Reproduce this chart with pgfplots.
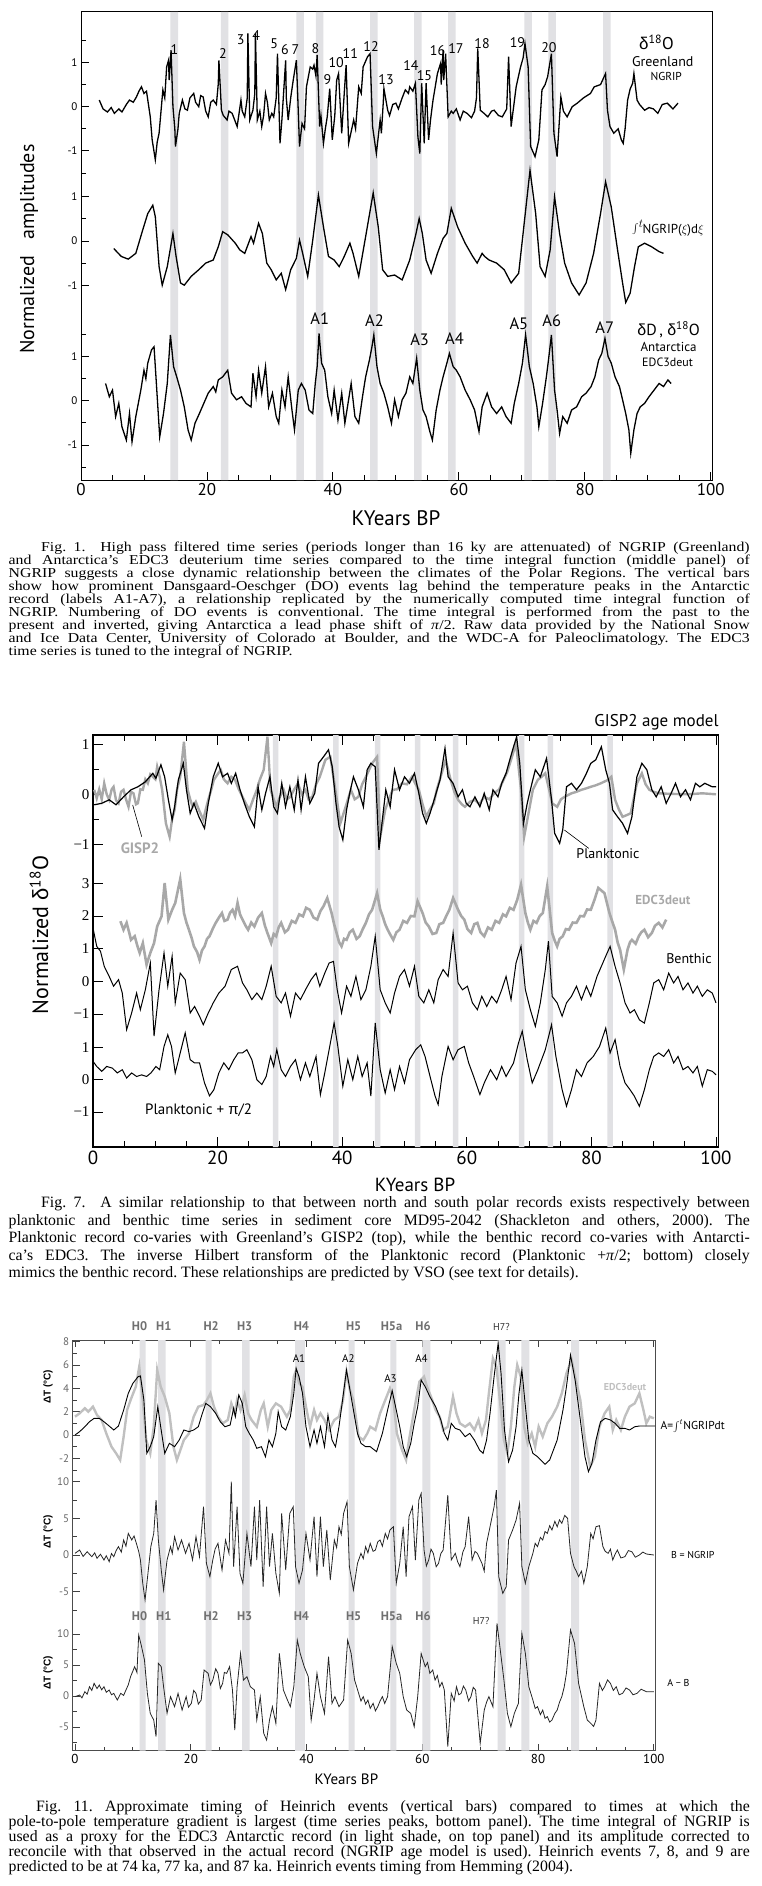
\documentclass[border=0pt]{standalone}
\usepackage{fontspec}
\setmainfont{Liberation Serif}
\setsansfont{PT Sans}
\newfontfamily\grk{Liberation Sans}
\usepackage{pgfplots}
\pgfplotsset{compat=1.18}
\definecolor{barcol}{RGB}{225,225,228}
\definecolor{gcurve}{RGB}{168,168,168}
\definecolor{lgcurve}{RGB}{192,192,192}
\definecolor{hlab}{RGB}{112,112,112}
\newcommand\fs[1]{\fontsize{#1}{#1}\selectfont}
\frenchspacing
% caption lines: x, baseline y, width, text
\newcommand\capl[4]{\node[anchor=base west,inner sep=0pt,font=\fs{15.8}] at (#1pt,-#2pt) {\makebox[#3pt][s]{#4}};}
\newcommand\cape[3]{\node[anchor=base west,inner sep=0pt,font=\fs{15.8}] at (#1pt,-#2pt) {#3};}
% Fig. 1 caption is set a little flatter
\newcommand\caplf[4]{\node[anchor=base west,inner sep=0pt,font=\fs{15.8}] at (#1pt,-#2pt) {\scalebox{1}[0.86]{\makebox[#3pt][s]{#4}}};}
\newcommand\capef[3]{\node[anchor=base west,inner sep=0pt,font=\fs{15.8}] at (#1pt,-#2pt) {\scalebox{1}[0.86]{#3}};}
\pgfplotsset{
  fa/.style={y filter/.expression={373.3+44.2*y}},
  fb/.style={y filter/.expression={239+44.2*y}},
  fc/.style={y filter/.expression={79.3+44.2*y}},
  sa/.style={y filter/.expression={352.7+50*y}},
  sb/.style={y filter/.expression={165.7+32.65*y}},
  sc/.style={y filter/.expression={67.3+32.3*y}},
  ha/.style={y filter/.expression={315.7+11.67*y}},
  hb/.style={y filter/.expression={195.7+7.33*y}},
  hc/.style={y filter/.expression={54.7+6.2*y}},
  bars/.style={ybar, bar shift=0pt, fill=barcol, draw=none},
}
\begin{document}
\begin{tikzpicture}
\path[use as bounding box] (0pt,0pt) rectangle (762pt,-1886pt);

% ---------------- Fig. 1 ----------------
\begin{axis}[
  at={(81pt,-480pt)}, anchor=south west, scale only axis,
  width=631pt, height=468pt,
  xmin=0, xmax=100.2, ymin=0, ymax=468,
  axis line style={line width=1pt},
  tick pos=left, tick align=inside,
  major tick length=8pt, minor tick length=5pt,
  every tick/.style={black, line width=0.8pt},
  xtick={0,20,40,60,80,100},
  minor xtick={5,10,15,25,30,35,45,50,55,65,70,75,85,90,95},
  ytick={35.1,79.3,123.5,194.8,239,283.2,329.1,373.3,417.5},
  yticklabels={-1,0,1,-1,0,1,-1,0,1},
  minor ytick={13,57.2,101.4,145.6,216.9,261.1,307,351.2,395.4,439.6},
  xticklabel style={font=\sffamily\fs{17}},
  yticklabel style={font=\sffamily\fs{11}},
  /pgf/number format/assume math mode=true,
]
\addplot[bars, bar width=7.6pt] coordinates {(14.8,468) (22.8,468) (34.8,468) (37.9,468) (46.5,468) (53.5,468) (58.9,468) (71.0,468) (74.8,468) (83.5,468)};
% NGRIP
\addplot[fa, black, line width=1.3pt, no markers] coordinates {
(2.9,0.15)(3.5,-0.05)(4.2,-0.12)(4.8,-0.02)(5.3,-0.15)(6.0,-0.05)(6.5,-0.12)(7.2,0.05)(7.7,0.15)(8.3,0.10)(8.8,0.22)(9.2,0.35)(9.6,0.45)(10.0,0.30)(10.4,0.35)(11.0,-0.23)(11.3,-0.75)(11.8,-1.2)(12.1,-0.8)(12.4,-0.6)(13.0,0.38)(13.3,0.2)(13.6,0.9)(13.9,1.05)(14.0,0.6)(14.3,1.28)(14.6,0)(14.9,-0.5)(15.0,-0.9)(15.4,-0.5)(15.6,-0.15)(16.1,0.15)(16.5,-0.05)(16.9,-0.08)(17.3,0.2)(17.9,0.3)(18.2,0.1)(18.7,0)(19.0,0.25)(19.4,0.22)(19.8,-0.1)(20.2,-0.23)(20.6,0.1)(21.0,0.15)(21.5,0.05)(21.8,0.52)(21.9,1.05)(22.3,-0.08)(22.6,-0.2)(23.2,-0.3)(23.5,-0.1)(24.0,-0.15)(24.4,-0.3)(24.8,-0.45)(25.4,0.15)(25.6,-0.1)(26.0,-0.23)(26.4,0.2)(26.5,1.66)(26.8,-0.3)(27.3,-0.08)(27.6,0.3)(27.7,1.66)(28.0,-0.3)(28.4,-0.1)(28.7,-0.45)(29.0,-0.2)(29.3,0.3)(29.6,0.1)(29.9,-0.3)(30.3,-0.15)(30.6,-0.23)(31.0,0.2)(31.2,1.2)(31.6,-0.83)(31.9,-0.3)(32.1,0.15)(32.5,1.05)(32.6,0.2)(32.9,-0.3)(33.3,0.2)(33.7,0.6)(34.2,1.05)(34.4,0.3)(34.7,-0.9)(35.1,-0.38)(35.5,-0.5)(35.8,0.45)(36.4,0.9)(36.8,0.85)(37.0,0.94)(37.3,0.7)(37.5,1.17)(37.9,-0.45)(38.1,-0.2)(38.5,-0.83)(38.8,-0.5)(39.1,-0.23)(39.5,0.41)(39.9,-0.75)(40.3,-0.2)(40.6,0.6)(40.9,0.75)(41.4,-0.6)(41.8,0.3)(42.1,0.94)(42.5,-0.83)(43.3,-0.3)(43.6,-0.5)(44.1,0.45)(44.5,0.3)(44.8,0.9)(45.5,1.13)(45.9,1.2)(46.3,-0.45)(46.9,-1.06)(47.5,-0.3)(47.7,-0.6)(48.0,0.1)(48.1,0.41)(48.7,-0.08)(49.0,-0.2)(49.5,0.05)(50.0,0.08)(50.4,-0.05)(51.0,0.2)(51.5,0.38)(52.0,0.3)(52.2,0.45)(52.7,0.35)(53.1,0.53)(53.5,-0.68)(53.8,-1.06)(54.1,0.53)(54.5,-0.83)(54.8,0.53)(55.2,-0.75)(55.5,-0.3)(55.9,0.15)(56.6,0.75)(57.1,0.98)(57.2,0.5)(57.5,1.28)(57.6,0.6)(57.9,1.2)(58.3,-0.23)(58.8,-0.1)(59.1,-0.15)(59.6,-0.05)(60.2,-0.3)(60.7,-0.1)(61.3,-0.15)(62.0,-0.25)(62.5,-0.1)(62.8,0.2)(63.0,1.32)(63.4,-0.08)(64.0,-0.15)(64.6,-0.23)(65.2,-0.1)(65.6,-0.08)(66.3,-0.2)(66.9,-0.23)(67.6,-0.05)(67.9,1.13)(68.3,-0.45)(69.1,0.45)(69.8,0.9)(70.2,1.1)(70.5,1.43)(71.0,0.9)(71.4,-0.9)(72.1,-1.13)(72.7,-0.75)(73.2,0.38)(73.7,0.5)(74.1,0.68)(74.7,1.2)(75.1,-0.6)(75.6,-1.13)(76.2,0.22)(76.6,-0.1)(77.2,-0.23)(78.0,0.0)(78.8,0.08)(79.8,0.2)(80.9,0.3)(81.5,0.45)(82.5,0.5)(83.3,0.75)(83.6,-0.08)(84.0,-0.45)(84.6,-0.6)(85.3,-0.5)(85.8,-0.75)(86.1,-0.83)(86.4,-0.5)(86.8,0.15)(87.2,0.4)(87.6,0.53)(87.8,0.75)(88.3,0.15)(88.7,0.05)(89.5,-0.08)(90.2,-0.02)(90.9,-0.05)(91.6,-0.15)(92.3,0.05)(93.1,0.08)(94.0,-0.05)(94.8,0.08)};
% time integral of NGRIP
\addplot[fb, black, line width=1.3pt, no markers] coordinates {
(5.2,-0.17)(6.4,-0.35)(7.5,-0.41)(8.7,-0.28)(9.8,0.25)(10.6,0.62)(11.4,0.81)(11.8,0.55)(12.4,-0.58)(12.9,-1.0)(13.7,-0.58)(14.6,0.17)(15.1,-0.35)(15.8,-0.95)(16.4,-1.0)(17.5,-0.8)(18.7,-0.65)(19.8,-0.5)(21.0,-0.43)(21.8,-0.13)(22.5,0.21)(23.3,0.14)(24.5,-0.05)(25.2,-0.2)(26.0,-0.28)(27.0,0.1)(27.4,-0.05)(28.2,0.4)(28.8,0.17)(29.5,-0.5)(30.2,-0.65)(31.0,-0.88)(31.8,-0.73)(32.5,-1.1)(33.3,-0.65)(34.2,-0.39)(34.7,0.02)(35.2,-0.28)(36.0,-0.8)(36.8,0.02)(37.7,1.04)(38.5,0.32)(39.3,-0.35)(40.2,-0.43)(41.0,-0.58)(41.8,-0.35)(42.7,-0.05)(43.2,-0.28)(44.1,-0.8)(45.2,0.1)(46.4,1.09)(47.2,0.32)(47.9,-0.65)(48.7,-0.8)(49.8,-0.77)(51.0,-0.88)(52.2,-0.43)(53.2,0.17)(53.7,0.51)(54.2,0.17)(54.8,-0.43)(55.6,-0.73)(56.6,-0.28)(57.5,0.06)(58.1,0.17)(58.8,0.74)(59.8,0.32)(61.0,-0.05)(62.2,-0.35)(62.9,-0.5)(63.7,-0.28)(64.1,-0.35)(64.8,-0.43)(66.0,-0.5)(67.2,-0.65)(68.3,-0.95)(69.5,-0.73)(70.2,0.17)(71.3,1.6)(72.2,0.62)(72.9,-0.58)(73.7,-0.8)(74.5,-0.2)(75.2,1.0)(76.0,0.17)(76.8,-0.5)(77.9,-0.95)(79.1,-1.22)(80.2,-0.95)(81.4,-0.28)(82.5,0.62)(83.3,1.34)(84.2,0.77)(85.2,-0.2)(86.0,-0.95)(86.5,-1.39)(87.2,-1.18)(87.9,-0.58)(88.5,-0.13)(89.5,-0.05)(90.6,-0.13)(91.8,-0.24)(92.5,-0.28)};
% EDC3 deuterium
\addplot[fc, black, line width=1.3pt, no markers] coordinates {
(3.9,0.39)(4.5,0.09)(5.0,0.24)(5.5,-0.36)(6.0,-0.06)(6.5,-0.59)(7.2,-0.89)(7.7,-0.29)(8.1,-0.93)(8.7,-0.36)(9.5,0.24)(10.0,0.69)(10.3,0.5)(10.6,0.85)(11.2,1.15)(11.6,1.22)(12.0,0.32)(12.5,-0.82)(13.1,-0.29)(13.7,0.39)(14.2,1.49)(14.7,0.77)(15.2,0.54)(15.8,0.24)(16.4,-0.14)(17.0,-0.66)(17.5,-0.89)(18.1,-0.51)(18.8,-0.29)(19.5,-0.06)(20.2,0.17)(21.0,0.32)(21.4,0.2)(21.8,0.47)(22.5,0.54)(23.3,0.69)(23.9,0.17)(24.7,0.02)(25.5,0.09)(26.2,-0.06)(27.0,-0.14)(27.3,0.62)(27.8,0.09)(28.2,0.69)(28.7,0.17)(29.3,0.77)(29.8,-0.14)(30.4,0.17)(31.0,-0.36)(31.4,-0.51)(31.9,0.24)(32.4,-0.14)(32.9,0.54)(33.5,-0.21)(33.9,-0.66)(34.5,0.24)(35.0,0.39)(35.6,0.24)(36.2,-0.21)(36.8,-0.29)(37.2,0.39)(37.5,0.77)(37.8,1.52)(38.2,0.85)(38.7,0.69)(39.2,0.09)(39.8,-0.29)(40.2,0.24)(40.8,-0.44)(41.4,0.17)(41.9,-0.51)(42.4,-0.06)(42.9,0.39)(43.5,-0.36)(44.1,-0.51)(44.7,0.09)(45.2,0.54)(45.8,0.92)(46.2,1.22)(46.5,1.49)(47.0,0.77)(47.5,0.39)(48.1,0.17)(48.7,-0.14)(49.3,-0.51)(49.8,0.02)(50.4,-0.36)(51.0,0.02)(51.6,0.17)(52.2,0.54)(52.7,0.39)(53.3,0.96)(53.8,0.24)(54.3,-0.21)(54.8,-0.36)(55.4,-0.7)(55.8,-0.89)(56.4,-0.21)(57.0,0.24)(57.5,0.54)(58.1,0.85)(58.5,1.07)(59.1,0.77)(59.6,0.69)(60.2,0.54)(61.0,0.24)(61.8,0.02)(62.5,-0.21)(63.2,-0.7)(63.7,-0.14)(64.5,0.17)(65.2,-0.14)(66.0,-0.29)(66.8,-0.14)(67.5,-0.36)(68.3,-0.51)(68.8,-0.06)(69.5,0.39)(70.1,0.85)(70.6,1.49)(71.2,0.77)(71.8,0.39)(72.4,-0.14)(72.7,-0.59)(73.3,-0.06)(73.9,0.54)(74.3,1.0)(74.7,1.49)(75.2,0.24)(75.6,-0.21)(76.0,-0.74)(76.5,-0.36)(77.2,-0.51)(77.9,-0.21)(78.7,-0.14)(79.5,0.09)(80.2,0.17)(81.0,0.32)(81.6,0.54)(82.2,0.92)(82.7,1.07)(83.2,1.41)(83.7,1.0)(84.2,0.85)(84.8,0.54)(85.5,0.32)(86.0,0.02)(86.5,-0.29)(87.0,-0.66)(87.3,-1.19)(87.8,-0.66)(88.3,-0.29)(88.8,-0.14)(89.5,-0.06)(90.2,0.09)(91.0,0.24)(91.8,0.39)(92.5,0.32)(93.2,0.47)(93.7,0.39)};
\end{axis}

\node[rotate=90,font=\sffamily\fs{20}] at (29pt,-249pt) {Normalized\hspace{16pt}amplitudes};
\node[font=\sffamily\fs{21}] at (396pt,-518pt) {KYears BP};
\begin{scope}[every node/.style={font=\sffamily\fs{14}, inner sep=0pt}]
\node at (174.4pt,-49.3pt) {1};
\node at (222.9pt,-54pt) {2};
\node at (240.8pt,-40pt) {3};
\node at (256.3pt,-36pt) {4};
\node at (274.2pt,-43.3pt) {5};
\node at (284.9pt,-50pt) {6};
\node at (295.5pt,-50pt) {7};
\node at (315.4pt,-48.3pt) {8};
\node at (327.5pt,-80pt) {9};
\node at (336.2pt,-62.3pt) {10};
\node at (350.3pt,-54pt) {11};
\node at (371.1pt,-46.7pt) {12};
\node at (386.1pt,-79.3pt) {13};
\node at (410.9pt,-65.7pt) {14};
\node at (424.4pt,-76pt) {15};
\node at (437.5pt,-51pt) {16};
\node at (455.9pt,-48.3pt) {17};
\node at (482.1pt,-43.3pt) {18};
\node at (517.4pt,-42.7pt) {19};
\node at (548.9pt,-47.3pt) {20};
\end{scope}
\node[font=\sffamily\fs{17}] at (656.5pt,-42.7pt) {{\grk δ}\textsuperscript{18}O};
\node[font=\sffamily\fs{14}] at (662.8pt,-61.7pt) {Greenland};
\node[font=\sffamily\fs{11.5}] at (666.2pt,-76.7pt) {NGRIP};
\node[font=\sffamily\fs{13}] at (668pt,-228.3pt) {{\fs{17}$\int^{t}$}\hspace{-1pt}NGRIP($\xi$)d$\xi$};
\begin{scope}[every node/.style={font=\sffamily\fs{16.5}, inner sep=0pt}]
\node at (319.8pt,-319pt) {A1};
\node at (374.5pt,-320.7pt) {A2};
\node at (419.6pt,-339.3pt) {A3};
\node at (454.5pt,-338.3pt) {A4};
\node at (518.9pt,-324pt) {A5};
\node at (551.8pt,-320.7pt) {A6};
\node at (604.7pt,-327.3pt) {A7};
\end{scope}
\node[font=\sffamily\fs{16}] at (668.6pt,-330pt) {{\grk δ}D\,, {\grk δ}\textsuperscript{18}O};
\node[font=\sffamily\fs{13}] at (668.6pt,-347.3pt) {Antarctica};
\node[font=\sffamily\fs{12}] at (667.6pt,-362.7pt) {EDC3deut};

\caplf{41}{551.4}{708.5}{Fig. 1.\ \ High pass filtered time series (periods longer than 16 ky are attenuated) of NGRIP (Greenland)}
\caplf{8.5}{564.5}{741}{and Antarctica’s EDC3 deuterium time series compared to the time integral function (middle panel) of}
\caplf{8.5}{577.5}{741}{NGRIP suggests a close dynamic relationship between the climates of the Polar Regions. The vertical bars}
\caplf{8.5}{590.6}{741}{show how prominent Dansgaard-Oeschger (DO) events lag behind the temperature peaks in the Antarctic}
\caplf{8.5}{603.6}{741}{record (labels A1-A7), a relationship replicated by the numerically computed time integral function of}
\caplf{8.5}{616.7}{741}{NGRIP. Numbering of DO events is conventional. The time integral is performed from the past to the}
\caplf{8.5}{629.7}{741}{present and inverted, giving Antarctica a lead phase shift of \textit{π}/2. Raw data provided by the National Snow}
\caplf{8.5}{642.8}{741}{and Ice Data Center, University of Colorado at Boulder, and the WDC-A for Paleoclimatology. The EDC3}
\capef{8.5}{655.8}{time series is tuned to the integral of NGRIP.}

% ---------------- Fig. 7 ----------------
\begin{axis}[
  at={(93pt,-1147pt)}, anchor=south west, scale only axis,
  width=625.5pt, height=412pt,
  xmin=0, xmax=100.4, ymin=0, ymax=412,
  axis line style={line width=1.3pt},
  xtick pos=both, ytick pos=left, tick align=inside,
  major tick length=10pt, minor tick length=6pt,
  every tick/.style={black, line width=0.9pt},
  xtick={0,20,40,60,80,100},
  minor xtick={5,10,15,25,30,35,45,50,55,65,70,75,85,90,95},
  ytick={35.0,67.3,99.6,133.05,165.7,198.35,231.0,263.65,302.7,352.7,402.7},
  yticklabels={−1,0,1,−1,0,1,2,3,−1,0,1},
  minor ytick={327.7,377.7},
  xticklabel style={font=\sffamily\fs{19}},
  yticklabel style={font=\rmfamily\fs{15}},
  /pgf/number format/assume math mode=true,
]
\addplot[bars, bar width=5.5pt] coordinates {(29.3,412) (39.0,412) (45.7,412) (52.1,412) (58.2,412) (68.8,412) (73.4,412) (83.0,412)};
% GISP2
\addplot[sa, gcurve, line width=2.4pt, no markers] coordinates {
(0.2,0.09)(0.6,-0.08)(1.0,0.1)(1.4,-0.1)(1.8,0.22)(2.2,0.0)(2.6,-0.11)(3.0,0.1)(3.3,0.15)(3.7,-0.12)(4.1,-0.18)(4.5,0.05)(4.9,0.09)(5.3,-0.1)(5.7,-0.25)(6.1,0.05)(6.5,0.02)(6.9,-0.2)(7.2,-0.18)(7.6,0.1)(8.0,0.09)(8.4,0.3)(8.8,0.22)(9.2,0.4)(9.6,0.35)(10.0,0.3)(10.3,0.55)(10.7,0.35)(11.1,0.09)(11.7,-0.58)(12.3,-0.85)(12.7,-0.5)(13.1,-0.31)(13.5,0.1)(14.0,0.35)(14.6,1.05)(15.2,0.09)(15.6,-0.1)(16.0,-0.25)(16.5,-0.15)(17.0,-0.31)(17.7,-0.51)(18.1,-0.3)(18.5,-0.11)(19.0,0.1)(19.4,0.29)(20.0,0.4)(20.5,0.49)(21.0,0.3)(21.6,0.22)(22.2,0.35)(22.8,0.29)(23.4,0.1)(24.0,-0.05)(24.6,-0.2)(25.1,-0.31)(25.7,-0.1)(26.3,0.09)(26.8,0.3)(27.4,0.49)(28.0,1.15)(28.5,0.09)(29.0,-0.1)(29.4,-0.25)(30.0,-0.05)(30.6,0.09)(31.1,-0.1)(31.7,-0.05)(32.3,0.1)(32.9,0.22)(33.5,0.0)(34.1,0.09)(34.6,-0.1)(35.2,-0.05)(35.8,0.2)(36.4,0.35)(37.3,0.69)(38.1,0.75)(38.9,0.09)(39.7,-0.58)(40.4,-0.31)(41.4,0.09)(42.0,-0.1)(42.6,-0.05)(43.2,0.2)(43.8,0.35)(44.8,0.62)(45.6,0.75)(46.1,-0.85)(46.9,-0.31)(47.5,-0.1)(48.1,0.09)(48.8,0.1)(49.6,0.22)(50.4,0.2)(51.2,0.35)(51.8,0.2)(52.3,0.09)(52.9,-0.2)(53.5,-0.45)(54.1,-0.3)(54.7,-0.18)(55.2,0.1)(55.8,0.35)(56.6,0.69)(57.4,0.29)(58.0,0.05)(58.6,-0.11)(59.2,-0.2)(59.7,-0.25)(60.5,-0.15)(61.3,-0.11)(62.0,-0.2)(62.8,-0.05)(63.6,-0.1)(64.4,0.02)(65.2,0.1)(65.9,0.29)(66.5,0.45)(67.1,0.69)(67.9,1.02)(68.7,0.09)(69.2,-0.85)(69.8,-0.45)(70.6,0.09)(71.4,0.29)(72.0,0.35)(72.6,0.42)(73.2,0.1)(73.7,-0.18)(74.5,-0.25)(75.1,-0.1)(75.7,-0.05)(76.8,0.02)(77.6,0.05)(78.4,0.09)(79.2,0.12)(79.9,0.15)(80.7,0.18)(81.5,0.22)(82.7,0.29)(83.2,0.35)(83.8,-0.11)(84.4,-0.3)(85.0,-0.45)(85.6,-0.42)(86.3,-0.38)(87.3,0.22)(88.1,0.42)(88.7,0.2)(89.3,0.09)(90.0,0.05)(90.8,0.02)(92.4,0.01)(95.5,0)(97.8,0.02)(100,0)};
% Planktonic
\addplot[sa, black, line width=1.2pt, no markers] coordinates {
(0.2,-0.21)(1.4,-0.18)(2.6,-0.11)(3.7,-0.21)(4.9,-0.05)(6.1,0.09)(7.2,0.15)(8.4,0.25)(9.6,0.42)(10.1,0.32)(10.9,0.59)(11.5,0.35)(12.1,-0.11)(12.7,-0.51)(13.1,-0.25)(13.7,0.29)(14.5,0.62)(15.0,0.09)(15.6,-0.38)(16.2,-0.18)(17.0,-0.45)(17.9,-0.68)(18.5,-0.18)(19.3,0.35)(20.1,0.62)(20.8,0.35)(21.6,0.42)(22.2,0.22)(22.9,0.42)(23.6,0.09)(24.3,-0.18)(25.1,-0.45)(25.9,-0.65)(26.5,0.15)(27.1,-0.31)(27.7,0.02)(28.4,0.35)(29.0,-0.25)(29.6,-0.38)(30.3,0.22)(30.9,-0.25)(31.6,0.15)(32.3,-0.31)(32.9,0.29)(33.4,-0.31)(34.1,0.35)(34.8,-0.18)(35.6,0.02)(36.2,0.62)(37.0,0.75)(37.8,0.89)(38.4,0.55)(39.0,-0.18)(39.5,-0.65)(40.1,-0.91)(40.7,-0.31)(41.2,0.02)(41.8,0.35)(42.6,0.09)(43.4,-0.25)(44.0,0.49)(44.6,0.62)(45.3,0.55)(45.9,-1.11)(46.5,-0.45)(47.0,0.09)(47.7,-0.25)(48.4,0.49)(49.2,0.09)(50.0,0.35)(50.8,0.22)(51.6,0.42)(52.3,0.02)(52.9,-0.38)(53.5,-0.58)(54.1,-0.38)(54.9,-0.05)(55.7,0.29)(56.5,0.92)(57.0,0.35)(57.8,0.22)(58.6,-0.05)(59.3,0.09)(59.9,-0.18)(60.5,-0.25)(61.3,-0.05)(62.1,-0.25)(62.8,0.02)(63.6,-0.31)(64.2,0.09)(65.0,-0.05)(65.6,0.22)(66.3,0.42)(66.9,0.69)(67.5,0.95)(68.0,1.15)(68.5,0.62)(69.1,-0.58)(69.7,-0.18)(70.2,0.09)(71.0,0.49)(71.8,0.35)(72.8,0.72)(73.6,-0.11)(74.1,-0.78)(74.9,-0.98)(75.4,-0.71)(76.0,0.15)(76.8,0.22)(77.6,0.09)(78.4,0.22)(79.2,0.42)(79.9,0.62)(80.7,0.69)(81.6,0.95)(82.3,0.49)(82.9,0.22)(83.4,-0.31)(84.2,-0.45)(85.0,-0.58)(85.8,-0.78)(86.5,-0.45)(87.3,0.35)(88.1,0.62)(88.9,0.49)(89.7,0.09)(90.4,-0.05)(91.2,0.15)(92.0,-0.18)(92.8,0.02)(93.5,0.22)(94.3,-0.05)(95.1,0.09)(95.9,-0.11)(96.7,0.22)(97.4,0.15)(98.2,0.22)(99.4,0.15)(100,0.15)};
% EDC3deut (grey)
\addplot[sb, gcurve, line width=2.6pt, no markers] coordinates {
(4.4,1.84)(4.9,1.58)(5.4,1.79)(5.8,1.5)(6.1,1.27)(6.7,1.38)(7.1,1.1)(7.5,0.87)(8.0,1.17)(8.6,0.51)(9.2,0.87)(9.8,1.17)(10.3,1.68)(11.0,1.99)(11.5,3.01)(12.1,1.89)(12.7,2.19)(13.2,2.4)(14.0,3.13)(14.6,2.09)(15.0,1.8)(15.4,1.58)(15.8,1.35)(16.2,1.07)(16.7,0.9)(17.1,0.66)(17.5,0.95)(17.9,1.07)(18.3,1.3)(18.7,1.38)(19.2,1.6)(19.7,1.79)(20.2,1.95)(20.7,2.09)(21.1,1.85)(21.6,1.89)(22.0,2.1)(22.4,2.19)(22.8,2.0)(23.2,2.4)(23.6,2.05)(24.0,1.89)(24.5,1.7)(24.9,1.58)(25.4,1.8)(25.9,1.68)(26.5,1.95)(27.1,2.09)(27.6,1.7)(28.0,1.48)(28.6,1.17)(29.0,1.45)(29.4,1.38)(29.8,1.65)(30.2,1.79)(30.8,1.5)(31.3,1.58)(31.9,1.85)(32.5,1.79)(33.1,2.05)(33.7,1.99)(34.2,2.25)(34.8,2.19)(35.4,1.95)(36.0,1.89)(36.5,2.15)(37.0,2.3)(37.6,2.55)(38.3,2.09)(38.7,1.75)(39.1,1.48)(39.5,1.2)(39.9,1.07)(40.3,1.3)(40.7,1.27)(41.2,1.5)(41.7,1.58)(42.3,1.3)(42.8,1.38)(43.3,1.6)(43.8,1.79)(44.3,2.05)(44.8,2.19)(45.6,2.7)(46.1,2.2)(46.5,1.99)(46.9,1.75)(47.3,1.58)(47.8,1.4)(48.2,1.27)(48.7,1.5)(49.2,1.58)(49.8,1.85)(50.4,1.79)(51.0,2.0)(51.6,1.99)(52.1,2.45)(52.9,2.09)(53.4,1.8)(53.9,1.68)(54.5,1.45)(55.1,1.48)(55.6,1.75)(56.2,1.79)(56.7,2.0)(57.2,2.19)(57.8,2.55)(58.6,2.19)(59.1,2.0)(59.6,1.89)(60.1,1.6)(60.7,1.48)(61.2,1.75)(61.7,1.79)(62.2,1.5)(62.8,1.38)(63.4,1.65)(64.0,1.58)(64.6,1.85)(65.2,1.79)(65.8,2.05)(66.3,1.99)(66.9,2.25)(67.5,2.19)(68.1,2.5)(68.7,2.96)(69.4,2.09)(69.8,1.8)(70.2,1.58)(70.7,1.85)(71.2,1.79)(71.7,2.0)(72.2,2.09)(72.9,2.91)(73.7,1.48)(74.1,1.25)(74.5,1.07)(74.9,1.3)(75.4,1.38)(75.9,1.6)(76.4,1.58)(77.0,1.8)(77.6,1.79)(78.2,2.0)(78.8,1.99)(79.3,2.2)(79.9,2.19)(80.5,2.5)(81.1,2.86)(82.1,2.7)(82.9,2.09)(83.4,1.8)(83.8,1.58)(84.2,1.2)(84.6,0.97)(85.2,0.36)(85.8,0.97)(86.2,1.2)(86.5,1.27)(87.1,1.15)(87.6,1.38)(88.0,1.5)(88.5,1.58)(89.1,1.35)(89.7,1.48)(90.2,1.7)(90.8,1.79)(91.4,1.65)(92.0,1.89)};
% Benthic
\addplot[sb, black, line width=1pt, no markers] coordinates {
(0,1.63)(0.6,1.07)(1.2,0.92)(1.8,0.46)(2.6,0.15)(3.3,-0.15)(4.1,0.05)(4.7,-0.36)(5.4,-1.48)(6.2,-0.97)(7.0,-0.36)(7.6,-0.87)(8.4,-0.26)(9.2,0.56)(9.8,-1.68)(10.6,-0.26)(11.4,0.87)(12.0,-0.15)(12.7,0.77)(13.2,-0.66)(14.0,0.25)(14.8,0.05)(15.6,-0.97)(16.3,-0.77)(17.1,-1.07)(17.7,-1.33)(18.5,-0.97)(19.3,-0.66)(20.2,-0.36)(21.2,-0.15)(22.2,0.36)(23.2,0.46)(24.0,-0.05)(24.7,-0.26)(25.5,-0.56)(26.3,-0.36)(27.1,-0.56)(27.8,-0.15)(28.6,0.46)(29.4,-0.46)(30.2,-0.66)(30.9,-0.36)(31.7,-1.07)(32.5,-0.36)(33.3,-0.56)(34.1,-0.26)(35.0,0.05)(35.8,0.25)(36.4,-0.15)(37.2,0.25)(37.9,0.56)(38.6,0.61)(39.2,-0.26)(39.9,-0.97)(40.7,-0.15)(41.4,-0.46)(42.2,0.15)(43.0,-0.56)(43.8,-0.26)(44.6,0.46)(45.3,1.38)(46.1,-0.26)(46.9,-0.66)(47.7,-0.97)(48.4,-0.36)(49.2,0.15)(50.0,0.36)(50.8,-0.15)(51.6,0.46)(52.3,-0.46)(53.1,-0.66)(53.9,-0.26)(54.7,-0.66)(55.4,0.05)(56.2,0.36)(57.0,0.15)(57.8,1.48)(58.6,-0.05)(59.3,-0.26)(60.1,-0.15)(60.9,-0.66)(61.7,-0.87)(62.4,-0.46)(63.2,-0.77)(64.0,-0.46)(64.8,-0.66)(65.6,-0.26)(66.3,0.15)(67.1,-0.56)(67.9,0.56)(68.7,1.07)(69.4,-0.26)(70.2,-0.87)(71.0,-1.38)(71.8,-0.66)(72.6,0.36)(73.1,1.23)(73.7,-0.46)(74.5,-0.66)(75.3,-1.07)(76.0,-0.66)(76.8,-0.46)(77.6,-0.15)(78.4,-0.56)(79.2,-0.15)(79.9,-0.46)(80.9,0.15)(81.6,0.46)(82.3,0.77)(83.0,1.07)(83.8,0.46)(84.6,-0.05)(85.4,-0.66)(86.2,-0.97)(86.9,-0.87)(87.7,-1.18)(88.5,-1.28)(89.3,-0.66)(90.0,-0.05)(90.8,0.05)(91.6,-0.26)(92.4,0.25)(93.2,-0.05)(93.9,0.15)(94.7,-0.26)(95.5,-0.05)(96.3,-0.36)(97.0,-0.15)(97.8,-0.46)(98.6,-0.26)(99.4,-0.36)(100,-0.66)};
% Planktonic + pi/2
\addplot[sc, black, line width=1pt, no markers] coordinates {
(0,0.57)(0.6,0.41)(1.4,0.26)(2.2,0.41)(3.1,0.36)(3.9,0.21)(4.7,0.31)(5.4,0.05)(6.2,0.21)(7.0,0.1)(7.8,0.15)(8.6,0.1)(9.3,0.21)(10.1,0.41)(10.7,0.31)(11.4,1.03)(12.0,1.39)(12.6,1.03)(13.2,0.21)(14.0,0.83)(14.8,1.45)(15.6,0.62)(16.3,0.52)(17.1,0.52)(17.9,-0.1)(18.7,-0.5)(19.4,-0.31)(20.2,0.21)(21.0,0.52)(21.8,0.31)(22.6,0.62)(23.3,0.83)(24.0,0.83)(24.7,0.93)(25.5,0.62)(26.3,0)(27.1,-0.15)(27.8,0.1)(28.5,0.72)(29.0,0.41)(29.5,0.93)(30.2,0.31)(30.9,0.1)(31.7,0.41)(32.5,0.62)(33.3,0)(34.1,0.52)(34.8,0.1)(35.8,0.72)(36.5,-0.46)(37.2,0.21)(37.9,0.93)(38.7,1.76)(39.3,1.03)(40.1,-0.2)(40.9,0.62)(41.7,0)(42.5,0.72)(43.2,0.1)(44.0,0.52)(44.6,-0.51)(45.3,1.76)(46.1,0.31)(46.9,-0.41)(47.7,0.31)(48.4,-0.31)(49.2,0.41)(50.0,-0.1)(50.8,0.62)(51.8,0.93)(52.6,1.08)(53.3,0.72)(54.1,0.1)(54.9,-0.5)(55.4,-0.77)(56.0,0.1)(57.0,1.03)(57.8,0.62)(58.6,0.93)(59.6,1.03)(60.3,0.52)(61.1,0.1)(62.1,-0.46)(62.8,-0.1)(63.8,0.31)(64.8,0)(65.6,0.41)(66.3,0.1)(67.5,0.52)(68.3,1.14)(68.9,1.5)(69.7,0.62)(70.5,-0.1)(71.4,0.31)(72.6,0.93)(73.6,1.7)(74.3,0.72)(75.3,-0.31)(76.0,-0.82)(76.8,-0.31)(77.6,0.31)(78.4,0.1)(79.3,0.52)(80.3,0.72)(81.3,1.03)(82.3,1.6)(83.0,0.83)(83.8,1.24)(84.6,0.41)(85.4,-0.1)(86.2,-0.31)(86.9,-0.51)(87.7,-0.82)(88.5,-0.31)(89.3,0.31)(90.0,0.72)(90.8,0.83)(91.6,0.72)(92.4,0.93)(93.2,0.52)(93.9,0.72)(94.7,0.31)(95.5,0.41)(96.3,0.21)(97.0,0.41)(97.8,-0.2)(98.6,0.31)(99.4,0.26)(100,0.15)};
\end{axis}

\node[font=\sffamily\fs{17}] at (656.5pt,-722.7pt) {GISP2 age model};
\node[rotate=90,font=\sffamily\fs{22}] at (39pt,-935pt) {Normalized {\grk δ}\textsuperscript{18}O};
\node[font=\sffamily\fs{19}] at (415pt,-1185pt) {KYears BP};
\draw[black, line width=0.6pt] (141.7pt,-836.7pt) -- (132.7pt,-805pt);
\node[font=\sffamily\bfseries\fs{15}, text=gcurve] at (140pt,-848.3pt) {GISP2};
\draw[black, line width=0.6pt] (588.7pt,-848.3pt) -- (564.4pt,-830pt);
\node[font=\sffamily\fs{14}] at (608pt,-853.3pt) {Planktonic};
\node[font=\sffamily\bfseries\fs{13}, text=gcurve] at (662.8pt,-900pt) {EDC3deut};
\node[font=\sffamily\fs{14}] at (689pt,-958.3pt) {Benthic};
\node[font=\sffamily\fs{15}] at (198.6pt,-1110pt) {Planktonic + {\grk π}/2};

\capl{41}{1207.5}{708.5}{Fig. 7.\ \ A similar relationship to that between north and south polar records exists respectively between}
\capl{8.5}{1225}{741}{planktonic and benthic time series in sediment core MD95-2042 (Shackleton and others, 2000). The}
\capl{8.5}{1242.5}{741}{Planktonic record co-varies with Greenland’s GISP2 (top), while the benthic record co-varies with Antarcti-}
\capl{8.5}{1260}{741}{ca’s EDC3. The inverse Hilbert transform of the Planktonic record (Planktonic +\textit{π}/2; bottom) closely}
\cape{8.5}{1277.5}{mimics the benthic record. These relationships are predicted by VSO (see text for details).}

% ---------------- Fig. 11 ----------------
\begin{axis}[
  at={(72.7pt,-1750.7pt)}, anchor=south west, scale only axis,
  width=582.3pt, height=410.7pt,
  xmin=-0.4, xmax=100.2, ymin=0, ymax=410.7,
  axis line style={line width=1pt, black!70},
  xtick pos=both, ytick pos=left, tick align=inside,
  major tick length=7pt, minor tick length=4pt,
  every tick/.style={black!75, line width=0.8pt},
  xtick={0,20,40,60,80,100},
  minor xtick={5,10,15,25,30,35,45,50,55,65,70,75,85,90,95},
  ytick={23.7,54.7,85.7,116.7,159.1,195.7,232.4,269.0,292.4,315.7,339.0,362.4,385.7,409.1},
  yticklabels={-5,0,5,10,-5,0,5,10,-2,0,2,4,6,8},
  minor ytick={8.2,39.2,70.2,101.2,140.7,177.4,214.0,250.7,280.7,304.0,327.4,350.7,374.1,397.4},
  xticklabel style={font=\sffamily\fs{13}},
  yticklabel style={font=\sffamily\fs{11}, text=black!60},
  /pgf/number format/assume math mode=true,
]
\addplot[bars, bar width=6pt] coordinates {(11.7,410.7) (23.1,410.7) (47.8,410.7) (55.0,410.7)};
\addplot[bars, bar width=7.5pt] coordinates {(15.0,410.7) (29.5,410.7)};
\addplot[bars, bar width=8.2pt] coordinates {(60.7,410.7) (73.7,410.7) (77.8,410.7) (86.4,410.7)};
\addplot[bars, bar width=9.8pt] coordinates {(38.9,410.7)};
% EDC3deut (grey)
\addplot[ha, lgcurve, line width=2.4pt, no markers] coordinates {
(0,1.57)(0.8,1.86)(1.7,2.29)(2.3,2.0)(3.1,2.43)(3.8,1.71)(4.6,1.29)(5.4,0.14)(6.3,-1.0)(7.1,-1.57)(7.8,-2.14)(8.4,-0.14)(9.0,2.14)(9.6,3.0)(10.5,4.14)(11.1,5.86)(11.7,3.0)(12.3,-0.43)(13.0,-1.57)(13.6,0.71)(14.2,5.57)(14.8,4.14)(15.5,3.29)(16.3,1.86)(17.0,-1.0)(17.6,-2.14)(18.2,-1.29)(18.8,-0.43)(19.7,0.14)(20.5,1.57)(21.3,2.43)(22.2,2.57)(22.8,3.0)(23.4,3.57)(24.0,2.43)(24.7,1.57)(25.5,1.0)(26.4,1.29)(27.0,2.71)(27.6,1.86)(28.0,3.0)(28.6,2.14)(29.3,3.43)(29.9,1.86)(30.5,1.29)(31.4,0.71)(32.1,2.14)(32.6,2.71)(33.3,0.71)(33.9,2.14)(34.7,2.71)(35.6,2.43)(36.6,1.57)(37.2,2.14)(37.8,5.0)(38.2,5.57)(38.7,4.43)(39.3,4.14)(39.9,2.43)(40.6,0.71)(41.3,2.14)(41.8,1.29)(42.4,1.86)(43.1,1.29)(43.9,0.43)(44.8,1.29)(45.6,1.57)(46.3,3.0)(46.9,5.43)(47.5,3.86)(48.1,3.0)(49.0,-0.14)(49.8,-0.43)(50.5,0.14)(51.0,0.71)(51.9,0.43)(52.7,1.86)(53.6,3.0)(54.4,4.0)(55.0,3.0)(55.6,0.14)(56.5,-1.29)(57.2,-2.14)(57.7,-0.43)(58.3,1.29)(58.8,2.71)(59.5,4.57)(60.3,5.0)(60.8,4.14)(61.5,3.29)(62.3,2.14)(63.0,1.57)(63.6,0.43)(64.4,0.71)(65.3,3.29)(65.9,1.86)(66.5,1.0)(67.4,0.71)(68.2,1.0)(69.0,0.43)(69.7,1.29)(70.3,0.14)(71.0,1.29)(71.5,3.57)(72.2,6.57)(72.8,5.86)(73.4,3.0)(74.1,-0.43)(74.7,-1.57)(75.3,0.71)(75.9,4.14)(76.4,6.0)(77.0,5.0)(77.6,0.71)(78.2,-0.71)(78.9,0.14)(79.5,-1.0)(80.1,0.71)(80.8,-0.14)(81.6,1.0)(82.4,1.57)(83.3,2.43)(84.1,3.57)(84.9,5.29)(85.8,6.43)(86.4,5.0)(87.3,3.0)(88.1,-0.43)(89.0,-2.71)(89.8,-1.86)(90.6,0.71)(91.5,1.86)(92.3,2.43)(92.9,0.43)(93.5,1.29)(94.3,0.43)(95.0,1.57)(95.8,2.43)(96.7,2.71)(97.5,3.57)(98.2,2.14)(98.7,1.0)(99.3,1.57)(100.0,1.43)};
% A = time integral of NGRIP
\addplot[ha, black, line width=0.9pt, no markers] coordinates {
(0,0)(0.8,0.29)(1.7,0.71)(2.5,1.14)(3.3,1.43)(4.2,1.43)(5.0,1.14)(5.9,0.77)(6.7,0.43)(7.5,0.77)(8.4,2.14)(9.2,3.57)(10.0,4.43)(10.9,5.0)(11.3,5.06)(11.9,3.0)(12.4,-1.57)(13.0,-1.0)(13.6,-0.14)(14.3,2.43)(14.8,0.71)(15.5,-1.57)(16.3,-0.71)(17.2,-1.0)(18.0,-0.43)(18.8,0.43)(19.7,0.29)(20.5,0.43)(21.3,0.71)(22.0,1.86)(22.6,2.71)(23.4,2.43)(24.3,1.86)(25.1,1.14)(25.9,0.71)(26.8,0.86)(27.4,2.29)(27.7,1.57)(28.3,3.43)(28.9,2.71)(29.5,0.71)(30.1,0.14)(30.8,-0.43)(31.4,-1.14)(32.2,-1.0)(32.9,-1.86)(33.5,-0.43)(34.1,-1.0)(34.7,0.14)(35.1,2.0)(35.7,0.71)(36.4,0.43)(37.2,1.57)(37.8,3.57)(38.2,5.71)(38.7,5.0)(39.3,3.57)(39.9,0.71)(40.6,-1.0)(41.3,0.43)(41.8,-0.71)(42.4,0.71)(43.1,-1.0)(43.7,1.71)(44.4,-0.43)(45.0,-1.0)(45.6,0.71)(46.3,3.29)(46.9,5.57)(47.4,4.14)(48.1,2.14)(48.8,0.14)(49.4,-0.71)(50.2,-1.0)(51.0,-1.0)(52.1,-1.43)(53.1,0.14)(54.0,2.14)(54.8,3.8)(55.5,2.14)(56.1,0.71)(56.7,-1.0)(57.3,-1.86)(58.0,-0.71)(58.6,1.0)(59.2,2.43)(59.8,4.71)(60.5,4.14)(61.3,3.29)(62.3,2.43)(63.2,1.29)(63.8,0.14)(64.4,-0.43)(65.0,1.0)(65.7,0.57)(66.5,0.43)(67.4,-0.14)(68.2,0.14)(69.0,-0.43)(69.9,-1.29)(70.5,-1.57)(71.1,-0.43)(71.7,1.86)(72.4,5.0)(73.1,7.86)(73.6,5.29)(74.2,0.43)(74.9,-2.29)(75.6,-1.29)(76.2,0.71)(76.7,3.57)(77.2,5.57)(77.7,3.0)(78.4,-0.43)(79.1,-1.57)(79.9,-1.86)(81.2,-2.51)(82.0,-2.14)(83.3,-0.43)(84.3,2.14)(84.9,4.14)(85.6,6.86)(86.4,4.71)(87.3,1.29)(88.1,-1.86)(88.7,-3.14)(89.3,-2.43)(90.0,-0.43)(90.8,1.14)(91.6,1.43)(92.5,1.29)(93.3,1.0)(94.1,0.57)(95.0,0.57)(95.8,0.43)(96.7,0.71)(97.5,0.77)(98.7,0.77)(100.2,0.77)};
% B = NGRIP
\addplot[hb, black!85, line width=0.8pt, no markers] coordinates {
(0,0.23)(0.8,0.68)(1.4,-0.2)(2.1,0.45)(2.9,-0.23)(3.4,0.3)(3.8,-0.45)(4.4,0.1)(5.0,-0.68)(5.4,-0.1)(5.9,-0.91)(6.3,0.2)(6.7,-0.23)(7.1,0.6)(7.5,1.14)(8.0,0.4)(8.4,2.05)(8.8,1.2)(9.2,2.95)(9.8,2.05)(10.2,2.6)(10.6,1.59)(11.0,0.5)(11.3,-0.68)(11.7,-3.86)(12.1,-6.14)(12.6,-2.5)(13.1,1.14)(13.6,2.95)(14.0,7.5)(14.4,2.05)(14.9,-2.05)(15.3,-4.77)(15.9,-0.68)(16.5,1.14)(16.8,0.2)(17.2,2.5)(17.8,0.68)(18.4,2.05)(19.1,0.23)(19.7,1.59)(20.3,-0.68)(20.9,2.5)(21.5,-0.23)(22.2,6.59)(22.7,-1.14)(23.3,-2.95)(23.8,-0.68)(24.2,0.8)(24.7,1.59)(25.4,-2.05)(26.0,2.05)(26.6,0.23)(27.0,10.0)(27.4,-1.59)(28.0,6.59)(28.5,-2.5)(29.0,-3.86)(29.7,2.95)(30.4,-1.59)(31.0,6.59)(31.4,-0.68)(31.9,7.5)(32.5,-4.32)(33.1,6.59)(33.6,-1.59)(34.1,2.95)(34.7,-2.5)(35.3,-5.23)(35.7,5.68)(36.4,-2.05)(37.1,5.68)(37.7,6.59)(38.1,-1.59)(38.7,-3.86)(39.3,-2.05)(39.9,2.95)(40.6,-0.68)(41.3,5.23)(41.8,-2.95)(42.4,5.23)(42.9,-1.59)(43.5,3.41)(44.1,-3.41)(44.8,2.05)(45.2,1.0)(45.6,3.86)(46.0,2.8)(46.4,5.68)(47.0,7.27)(47.4,-1.59)(48.1,-4.77)(48.8,-1.14)(49.4,0.23)(49.8,-0.5)(50.2,1.14)(50.6,0.3)(51.0,1.59)(51.5,0.5)(51.9,0.68)(52.3,1.8)(52.7,2.05)(53.1,1.2)(53.6,2.95)(54.0,2.2)(54.4,3.41)(55.0,3.86)(55.5,-3.86)(56.1,-1.14)(56.7,3.86)(57.2,-2.95)(57.7,5.23)(58.3,6.59)(58.8,-0.68)(59.4,7.5)(59.8,8.41)(60.3,0.68)(60.7,-1.5)(61.1,-0.68)(61.5,0.8)(61.9,0.23)(62.4,-1.6)(62.8,-1.14)(63.2,0.2)(63.6,0.68)(64.4,8.18)(65.0,-0.68)(65.7,0.23)(66.1,-0.9)(66.5,-1.59)(67.0,0.4)(67.4,1.14)(68.0,5.23)(68.6,-0.68)(69.1,0.5)(69.5,0.23)(70.3,-1.14)(70.7,-2.2)(71.1,1.59)(71.7,3.86)(72.4,6.59)(72.8,8.86)(73.2,-2.95)(73.9,-5.23)(74.5,-4.32)(74.9,2.05)(75.6,3.41)(76.2,4.77)(76.8,7.05)(77.2,-1.59)(77.8,-3.86)(78.4,-1.59)(79.1,0.23)(79.5,1.6)(79.9,1.14)(80.4,2.4)(80.8,2.05)(81.2,3.2)(81.6,2.95)(82.0,4.0)(82.4,3.41)(82.9,4.6)(83.3,3.86)(83.7,4.8)(84.1,4.32)(84.6,5.4)(85.1,5.0)(85.6,0.23)(86.2,-1.59)(86.6,-2.2)(87.0,-2.95)(87.5,-2.2)(87.9,-3.86)(88.5,-1.59)(89.1,2.95)(89.5,2.2)(90.0,3.86)(90.6,4.0)(91.2,1.14)(91.6,0.5)(92.1,0.23)(92.5,0.8)(92.9,-0.68)(93.3,0.1)(93.7,0.68)(94.3,-0.4)(95.0,-0.23)(95.6,0.6)(96.2,0.45)(96.8,-0.3)(97.5,0)(98.1,0.4)(98.7,0.14)(100.0,0)};
% A - B
\addplot[hc, black!85, line width=0.8pt, no markers] coordinates {
(0,-0.1)(0.8,0.16)(1.2,-0.3)(1.7,0.7)(2.1,0.3)(2.5,1.5)(2.9,0.9)(3.3,2.04)(3.8,1.2)(4.2,1.77)(4.6,1.0)(5.0,1.5)(5.4,0.6)(5.9,0.97)(6.3,0.2)(6.7,0.43)(7.3,-0.65)(7.9,0.43)(8.4,0.1)(8.8,0.97)(9.2,1.8)(9.6,3.12)(10.3,4.73)(10.7,3.8)(11.0,9.84)(11.5,7.96)(12.0,5.81)(12.5,0.43)(13.0,-2.8)(13.6,-3.87)(14.0,-6.56)(14.4,5.27)(14.9,4.73)(15.3,1.5)(15.9,-2.8)(16.5,-0.1)(17.2,-1.72)(17.8,0.43)(18.5,-2.26)(19.2,-0.1)(19.6,-1.8)(20.1,-1.18)(20.5,0.9)(20.9,0.43)(21.3,-1.3)(21.8,-0.65)(22.3,4.19)(23.0,3.66)(23.4,1.8)(23.8,2.58)(24.3,4.4)(24.7,3.66)(25.1,1.2)(25.5,2.04)(25.8,3.8)(26.2,3.66)(26.7,4.73)(27.2,0.97)(27.6,-5.48)(28.0,1.5)(28.6,6.88)(29.1,2.58)(29.7,3.12)(30.3,1.5)(31.0,0.97)(31.4,-3.87)(32.0,-0.1)(32.6,-6.02)(33.1,-7.1)(33.6,-3.87)(34.1,-1.72)(34.7,-4.41)(35.3,6.88)(36.0,0.97)(36.7,-0.65)(37.2,-1.72)(37.8,1.5)(38.4,9.03)(38.9,6.88)(39.6,4.73)(40.3,3.12)(40.8,-3.87)(41.3,-0.65)(41.8,3.66)(42.4,-0.1)(43.1,-2.8)(43.8,6.34)(44.4,-1.18)(44.9,-0.1)(45.6,-1.72)(46.4,-0.65)(47.1,9.03)(47.7,6.88)(48.3,2.58)(49.0,0.43)(49.4,-0.8)(49.8,-0.1)(50.2,-1.3)(50.6,-0.65)(51.0,-2.0)(51.5,-1.18)(51.9,-2.4)(52.3,-1.72)(52.7,-0.8)(53.1,-0.1)(53.5,-1.2)(54.0,-0.1)(54.8,7.96)(55.5,5.27)(56.1,3.66)(56.7,-0.1)(57.3,-2.26)(58.0,-2.8)(58.6,-4.95)(59.2,-0.1)(59.8,6.88)(60.5,4.73)(60.9,5.4)(61.3,3.66)(61.8,4.2)(62.2,2.58)(62.6,3.3)(63.0,1.5)(63.4,2.2)(63.8,0.97)(64.4,-8.17)(65.0,0.43)(65.5,-0.8)(65.9,1.5)(66.3,0.2)(66.7,0.43)(67.1,1.6)(67.5,0.97)(68.0,-0.8)(68.4,-0.1)(68.8,1.4)(69.2,0.97)(70.0,-7.63)(70.7,-2.26)(71.1,-1.0)(71.5,-0.1)(72.2,-1.72)(72.9,11.72)(73.4,7.96)(74.1,2.58)(74.7,-2.8)(75.3,-4.95)(75.9,-2.8)(76.6,-1.18)(77.2,10.1)(77.8,6.88)(78.4,1.5)(79.1,-0.65)(79.5,-2.0)(79.9,-1.72)(80.4,-3.0)(80.8,-2.26)(81.2,-3.6)(81.6,-3.33)(82.0,-4.2)(82.4,-3.87)(82.9,-2.8)(83.3,-2.26)(83.7,-1.0)(84.1,-0.1)(84.5,1.4)(84.9,3.66)(85.6,10.65)(86.3,8.49)(87.0,2.04)(87.9,-1.72)(88.5,-3.87)(89.1,-4.41)(89.6,-4.9)(90.0,-3.87)(90.6,2.04)(91.1,0.9)(91.5,1.5)(92.0,2.6)(92.5,2.04)(93.0,0.9)(93.5,1.5)(94.0,0.2)(94.6,0.43)(95.2,1.3)(95.8,0.97)(96.4,0.2)(97.1,0.43)(97.8,1.1)(98.7,0.7)(100.0,0.7)};
\end{axis}

\begin{scope}[every node/.style={font=\sffamily\bfseries\fs{12.5}, text=hlab, inner sep=0pt}]
\node at (139.5pt,-1326pt) {H0};
\node at (163.8pt,-1326pt) {H1};
\node at (211.2pt,-1326pt) {H2};
\node at (244.7pt,-1326pt) {H3};
\node at (301.4pt,-1326pt) {H4};
\node at (353.7pt,-1326pt) {H5};
\node at (391.5pt,-1326pt) {H5a};
\node at (423pt,-1326pt) {H6};
\node at (139.5pt,-1616pt) {H0};
\node at (163.8pt,-1616pt) {H1};
\node at (211.2pt,-1616pt) {H2};
\node at (244.7pt,-1616pt) {H3};
\node at (301.4pt,-1616pt) {H4};
\node at (353.7pt,-1616pt) {H5};
\node at (391.5pt,-1616pt) {H5a};
\node at (423pt,-1616pt) {H6};
\end{scope}
\node[font=\sffamily\fs{10}, text=black!80] at (501.5pt,-1327.3pt) {H7?};
\node[font=\sffamily\fs{10}, text=black!80] at (481.1pt,-1621pt) {H7?};
\begin{scope}[every node/.style={font=\sffamily\fs{11}, inner sep=0pt}]
\node at (299pt,-1358.3pt) {A1};
\node at (348.4pt,-1358.3pt) {A2};
\node at (390.5pt,-1378.3pt) {A3};
\node at (421.5pt,-1358.3pt) {A4};
\end{scope}
\node[font=\sffamily\bfseries\fs{10}, text=lgcurve] at (625pt,-1386.7pt) {EDC3deut};
\node[font=\sffamily\fs{11.5}, anchor=west] at (657pt,-1426pt) {A=$\int^{t}$NGRIPdt};
\node[font=\sffamily\fs{10}] at (692.8pt,-1555pt) {B = NGRIP};
\node[font=\sffamily\fs{10}] at (678.3pt,-1682.7pt) {A − B};
\begin{scope}[every node/.style={rotate=90, font=\grk\bfseries\fs{10}}]
\node at (48pt,-1387pt) {ΔT (°C)};
\node at (48pt,-1532pt) {ΔT (°C)};
\node at (48pt,-1673pt) {ΔT (°C)};
\end{scope}
\node[font=\sffamily\fs{15}] at (346.4pt,-1779.3pt) {KYears BP};

\capl{36}{1811.2}{713.5}{Fig. 11. Approximate timing of Heinrich events (vertical bars) compared to times at which the}
\capl{8.5}{1826.2}{741}{pole-to-pole temperature gradient is largest (time series peaks, bottom panel). The time integral of NGRIP is}
\capl{8.5}{1841.8}{741}{used as a proxy for the EDC3 Antarctic record (in light shade, on top panel) and its amplitude corrected to}
\capl{8.5}{1856.8}{741}{reconcile with that observed in the actual record (NGRIP age model is used). Heinrich events 7, 8, and 9 are}
\cape{8.5}{1871.8}{predicted to be at 74 ka, 77 ka, and 87 ka. Heinrich events timing from Hemming (2004).}
\end{tikzpicture}
\end{document}
